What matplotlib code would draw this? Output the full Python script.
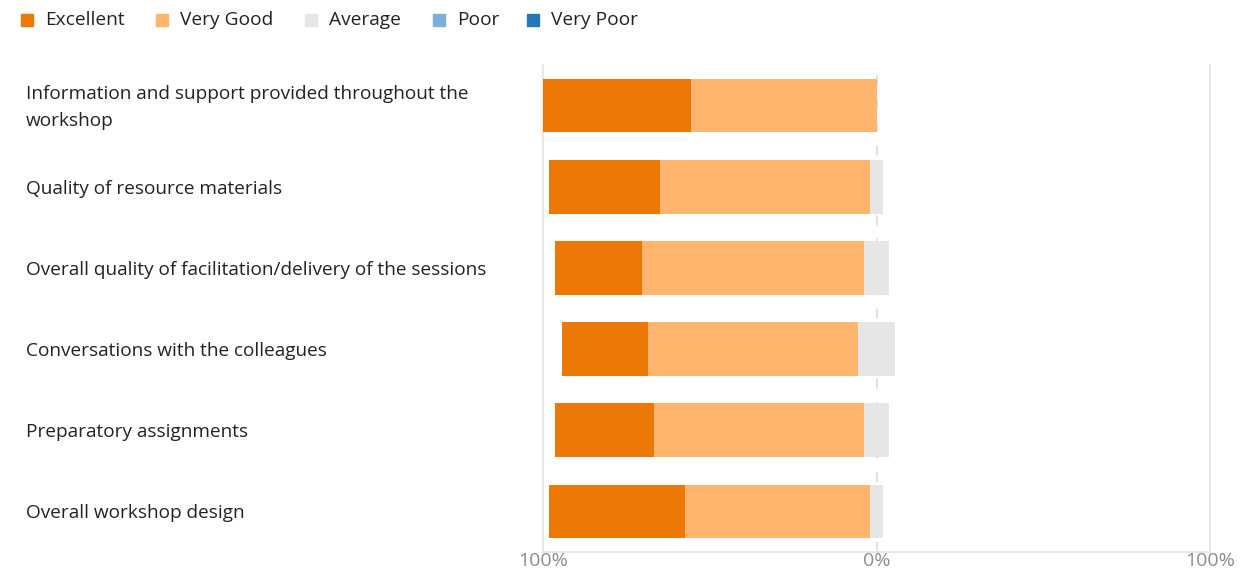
import matplotlib
matplotlib.use("Agg")
import matplotlib.pyplot as plt
from matplotlib.patches import Rectangle
import numpy as np

plt.rcParams['font.family'] = ['Open Sans', 'DejaVu Sans']

categories = [
    "Information and support provided throughout the\nworkshop",
    "Quality of resource materials",
    "Overall quality of facilitation/delivery of the sessions",
    "Conversations with the colleagues",
    "Preparatory assignments",
    "Overall workshop design",
]
excellent = [44.4, 33.3, 25.9, 25.9, 29.6, 40.7]
very_good = [55.6, 63.0, 66.7, 63.0, 63.0, 55.6]
average   = [0.0, 3.7, 7.4, 11.1, 7.4, 3.7]
poor      = [0.0, 0.0, 0.0, 0.0, 0.0, 0.0]
very_poor = [0.0, 0.0, 0.0, 0.0, 0.0, 0.0]

series_names = ["Excellent", "Very Good", "Average", "Poor", "Very Poor"]
colors = ["#EC7806", "#FFB56E", "#E6E6E6", "#7DB0D8", "#2677B7"]
tick_values = [-100, 0, 100]
tick_labels = ["100%", "0%", "100%"]

W, H = 1255, 573
fig = plt.figure(figsize=(W / 100, H / 100), dpi=100)
ax = fig.add_axes([543 / W, (H - 552) / H, (1210 - 543) / W, (552 - 65) / H])

exc = np.array(excellent)
vg = np.array(very_good)
avg = np.array(average)
pr = np.array(poor)
vp = np.array(very_poor)
y = np.arange(len(categories))

left = -(exc + vg + avg / 2)
h = 0.66
starts = left.copy()
for vals, c in zip([exc, vg, avg, pr, vp], colors):
    ax.barh(y, vals, left=starts, height=h, color=c, edgecolor='none', zorder=3)
    starts = starts + vals

ax.set_xlim(-100, 100)
ax.set_ylim(len(categories) - 0.5, -0.5)

# grid lines
for xv in [-100, 100]:
    ax.axvline(xv, color='#E3E3E3', lw=1.2, zorder=1, clip_on=False)
ax.axvline(0, color='#DCDCDC', lw=1.2, ls=(0, (6, 8)), zorder=1)

for s in ['top', 'right', 'left']:
    ax.spines[s].set_visible(False)
ax.spines['bottom'].set_color('#E3E3E3')
ax.spines['bottom'].set_linewidth(1.2)

ax.set_xticks(tick_values)
ax.set_xticklabels(tick_labels, color='#8C8C8C', fontsize=14)
ax.tick_params(axis='x', length=0, pad=0)
ax.set_yticks([])

# category labels
for yi, cat in zip(y, categories):
    yp = ax.transData.transform((0, yi))[1]
    fig.text(26 / W, (yp - 2) / H, cat, ha='left', va='center', fontsize=13.7,
             color='#222222', linespacing=1.7)

# legend
leg_sq = [21, 156, 305, 433, 527]
for xs, name, c in zip(leg_sq, series_names, colors):
    fig.patches.append(Rectangle((xs / W, (H - 26) / H), 12 / W, 12 / H,
                                 transform=fig.transFigure, color=c, figure=fig))
    fig.text((xs + 24) / W, (H - 20) / H, name, ha='left', va='center',
             fontsize=13.8, color='#222222')

fig.savefig("out.png", dpi=100)
